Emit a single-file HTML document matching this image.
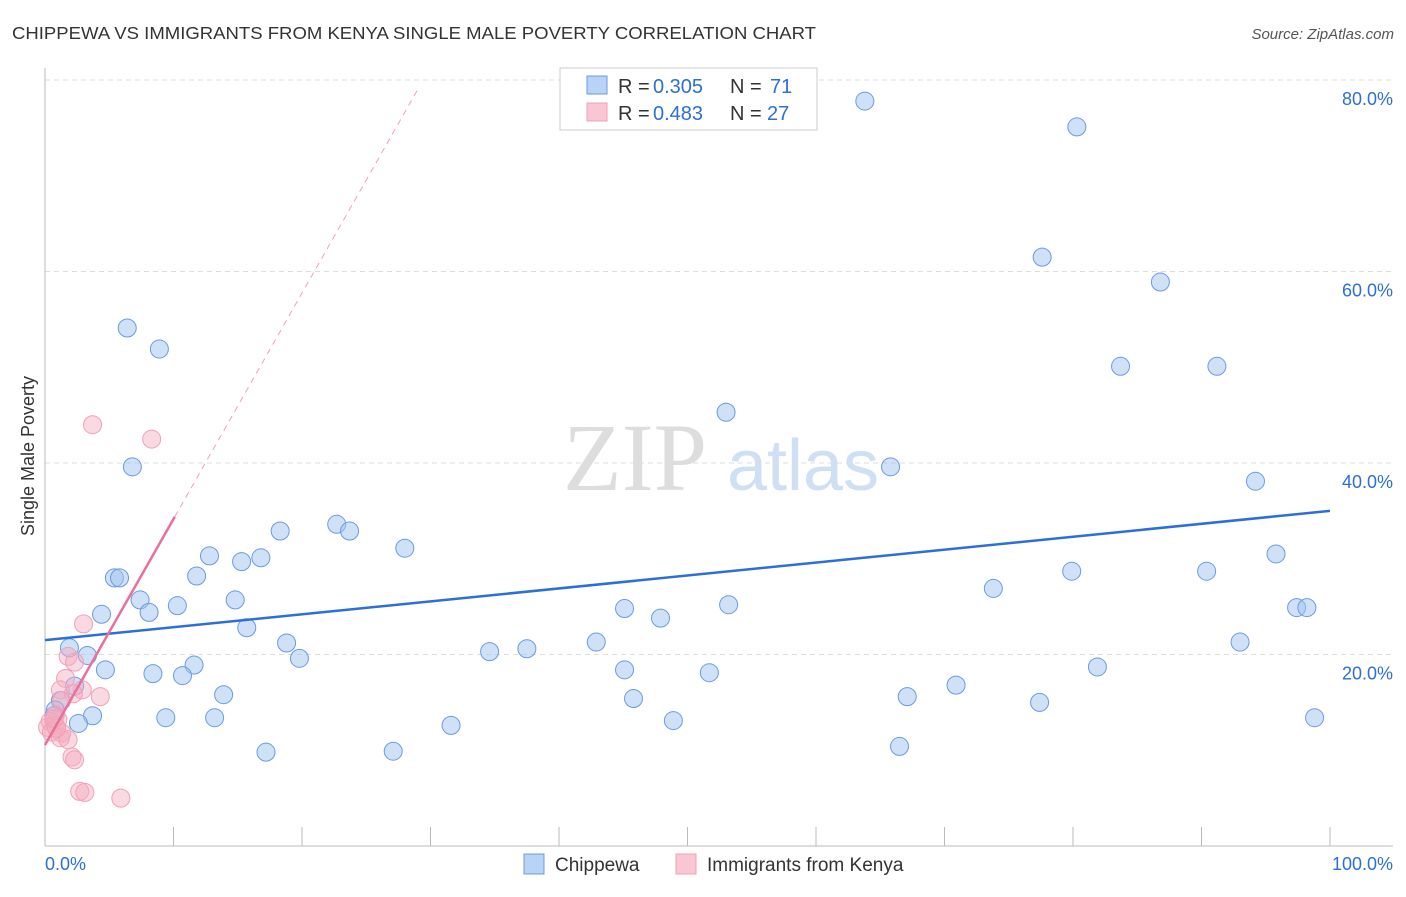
<!DOCTYPE html>
<html><head><meta charset="utf-8"><style>
body{margin:0;background:#fff;font-family:"Liberation Sans",sans-serif}
</style></head><body>
<svg width="1406" height="892" viewBox="0 0 1406 892" xmlns="http://www.w3.org/2000/svg">
<text x="12" y="39" font-size="17.5" fill="#333" textLength="804" lengthAdjust="spacingAndGlyphs">CHIPPEWA VS IMMIGRANTS FROM KENYA SINGLE MALE POVERTY CORRELATION CHART</text>
<text x="1394" y="39" font-size="15" fill="#555" text-anchor="end" font-style="italic">Source: ZipAtlas.com</text>
<g>
<text x="635" y="490" font-size="96" fill="#ddd" font-family="Liberation Serif,serif" text-anchor="middle">ZIP</text>
<text x="803" y="490" font-size="72" fill="#cfe0f5" text-anchor="middle">atlas</text>
</g>
<g id="grid"></g>
<g id="axes"></g>
<g id="pts"></g>
<g id="trends"></g>
<g>
<rect x="560" y="68" width="257" height="62" fill="#fff" stroke="#ccc"/>
<rect x="587" y="76" width="20" height="18" fill="#b8d3f5" stroke="#6a9be0"/>
<rect x="587" y="103" width="20" height="18" fill="#f9c6d4" stroke="#f0a0b8"/>
<text x="618" y="93" font-size="20" fill="#333">R =</text>
<text x="653" y="93" font-size="20" fill="#2c6fd6">0.305</text>
<text x="730" y="93" font-size="20" fill="#333">N =</text>
<text x="770" y="93" font-size="20" fill="#2c6fd6">71</text>
<text x="618" y="120" font-size="20" fill="#333">R =</text>
<text x="653" y="120" font-size="20" fill="#2c6fd6">0.483</text>
<text x="730" y="120" font-size="20" fill="#333">N =</text>
<text x="767" y="120" font-size="20" fill="#2c6fd6">27</text>
</g>
<g>
<rect x="524" y="854" width="20" height="20" fill="#b8d3f5" stroke="#6a9be0"/>
<text x="555" y="871" font-size="19" fill="#333">Chippewa</text>
<rect x="676" y="854" width="20" height="20" fill="#f9c6d4" stroke="#f0a0b8"/>
<text x="707" y="871" font-size="19" fill="#333">Immigrants from Kenya</text>
</g>
<text transform="translate(34,456) rotate(-90)" font-size="18" fill="#333" text-anchor="middle">Single Male Poverty</text>
</svg>
<script>
const blueX=[6.4,8.9,6.8,63.8,80.3,77.6,86.8,83.7,91.2,53.0,65.8,94.2,18.3,22.7,23.7,28.0,12.8,15.3,16.8,95.8,5.4,5.8,11.8,79.9,90.4,73.8,7.4,10.3,8.1,14.8,4.4,45.1,47.9,53.2,97.4,98.2,15.7,18.8,42.9,34.6,37.5,93.0,1.9,3.3,19.8,11.6,4.7,8.4,10.7,45.1,51.7,81.9,2.3,70.9,13.9,67.1,45.8,77.4,1.2,0.8,3.7,9.4,13.2,48.9,98.8,2.6,31.6,17.2,27.1,66.5,0.7];
const blueY=[54.1,51.9,39.6,77.8,75.1,61.5,58.9,50.1,50.1,45.3,39.6,38.1,32.9,33.6,32.9,31.1,30.3,29.7,30.1,30.5,28.0,28.0,28.2,28.7,28.7,26.9,25.7,25.1,24.4,25.7,24.2,24.8,23.8,25.2,24.9,24.9,22.8,21.2,21.3,20.3,20.6,21.3,20.7,19.9,19.6,18.9,18.4,18.0,17.8,18.4,18.1,18.7,16.7,16.8,15.8,15.6,15.4,15.0,15.2,14.2,13.6,13.4,13.4,13.1,13.4,12.8,12.6,9.8,9.9,10.4,13.6];
const pinkX=[3.7,8.3,3.0,1.8,2.3,1.6,1.2,2.9,2.2,4.3,1.3,0.8,1.0,0.4,0.8,0.2,0.5,1.3,1.2,1.8,2.1,2.3,2.7,3.1,5.9,0.9,0.7];
const pinkY=[44.0,42.5,23.2,19.8,19.2,17.5,16.3,16.3,15.9,15.6,15.2,13.7,13.2,13.0,12.6,12.4,11.9,11.8,11.3,11.1,9.3,9.0,5.7,5.6,5.0,12.3,13.3];
const yTicks=[20,40,60,80];
const yTickLabels=["20.0%","40.0%","60.0%","80.0%"];
const blueTrend=[21.5,35.0];
const pinkTrend=[10.55,2.36];
const NS="http://www.w3.org/2000/svg";
const sx=v=>45+v*12.85, sy=v=>846-v*9.575;
function mk(t,a,p){const e=document.createElementNS(NS,t);for(const k in a)e.setAttribute(k,a[k]);p.appendChild(e);return e;}
const grid=document.getElementById('grid'),axes=document.getElementById('axes');
yTicks.forEach((t,i)=>{
 const l=mk('line',{x1:45,x2:1393,y1:sy(t),y2:sy(t),stroke:'#ddd','stroke-dasharray':'5,4'},grid);
 
 
 const tx=mk('text',{x:1393,y:sy(t)+25,'font-size':18,fill:'#2c6fd6','text-anchor':'end'},axes);
 tx.textContent=yTickLabels[i];
 
 
});
mk('line',{x1:45,x2:45,y1:68,y2:846,stroke:'#bbb'},axes);
mk('line',{x1:45,x2:1393,y1:846,y2:846,stroke:'#bbb'},axes);
for(let i=1;i<=10;i++){mk('line',{x1:sx(i*10),x2:sx(i*10),y1:827,y2:846,stroke:'#bbb'},axes);}
const x0=mk('text',{x:45,y:870,'font-size':18,fill:'#2c6fd6'},axes);x0.textContent='0.0%';


const x1=mk('text',{x:1393,y:870,'font-size':18,fill:'#2c6fd6','text-anchor':'end'},axes);x1.textContent='100.0%';


const pts=document.getElementById('pts');
blueX.forEach((x,i)=>{const c=mk('circle',{cx:sx(x),cy:sy(blueY[i]),r:9,fill:'rgba(160,195,240,0.5)',stroke:'#6a9be0','stroke-width':1},pts);
 
 });
pinkX.forEach((x,i)=>{const c=mk('circle',{cx:sx(x),cy:sy(pinkY[i]),r:9,fill:'rgba(245,170,190,0.45)',stroke:'#f0a0b8','stroke-width':1},pts);
 
 });
const tr=document.getElementById('trends');
const bl=mk('line',{x1:sx(0),y1:sy(blueTrend[0]),x2:sx(100),y2:sy(blueTrend[1]),stroke:'#2c6fd6','stroke-width':2.5},tr);


const pe=(80-pinkTrend[0])/pinkTrend[1]*0.99;
const pd=mk('line',{x1:sx(10.1),y1:sy(pinkTrend[0]+pinkTrend[1]*10.1),x2:sx(pe),y2:sy(pinkTrend[0]+pinkTrend[1]*pe),stroke:'#f0a0b8','stroke-width':1,'stroke-dasharray':'6,5'},tr);


const ps=mk('line',{x1:sx(0),y1:sy(pinkTrend[0]),x2:sx(10.1),y2:sy(pinkTrend[0]+pinkTrend[1]*10.1),stroke:'#e8709a','stroke-width':2.5},tr);


</script>
</body></html>
